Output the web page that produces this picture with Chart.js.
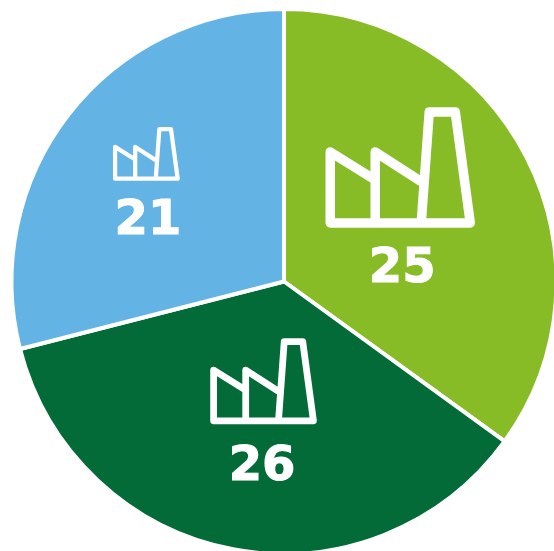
<!DOCTYPE html>
<html>
<head>
<meta charset="utf-8">
<title>Factories</title>
<script src="https://cdn.jsdelivr.net/npm/chart.js@4/dist/chart.umd.min.js"></script>
<style>
  html, body { margin: 0; padding: 0; background: #fff; overflow: hidden; }
  #wrap { position: absolute; left: 0; top: 0; width: 568px; height: 563px; }
</style>
</head>
<body>
<div id="wrap"><canvas id="MyChart1" width="568" height="563"></canvas></div>
<script>
var categories = ['Green', 'Dark green', 'Blue'];
var factoryCounts = [25, 26, 21];
// slice sizes, a bit off the printed counts
var sliceSizes = [25.18, 25.95, 20.87];
var sliceColors = ['#88bc26', '#036b37', '#63b3e5'];

// offsets from each slice's centre point, in px
var labelOffsets = [[-3.1, 49.9], [3.5, 52.4], [-28.5, 23.4]];
var iconOffsets = [[-5.1, -52.1], [5, -34.1], [-30, -44.1]];
var iconScales = [1, 0.713, 0.447];

// factory outline, centred on 0,0 at full size (150 wide)
function drawFactory(ctx, x, y, s) {
  ctx.save();
  ctx.translate(x, y);
  ctx.scale(s, s);
  ctx.strokeStyle = '#fff';
  ctx.lineWidth = 9.5;
  ctx.lineJoin = 'round';
  ctx.lineCap = 'round';
  ctx.beginPath();
  ctx.moveTo(-70, 55.5);
  ctx.lineTo(70, 55.5);
  ctx.lineTo(55, -55.5);
  ctx.lineTo(29, -55.5);
  ctx.lineTo(21, 55.5);
  ctx.moveTo(-25, 55.5);
  ctx.lineTo(-25, -15.5);
  ctx.lineTo(20, 13.5);
  ctx.moveTo(-70, 55.5);
  ctx.lineTo(-70, -15.5);
  ctx.lineTo(-25, 12.5);
  ctx.stroke();
  ctx.restore();
}

var factoryLabels = {
  id: 'factoryLabels',
  afterDatasetsDraw: function (chart) {
    var ctx = chart.ctx;
    chart.getDatasetMeta(0).data.forEach(function (arc, i) {
      var c = arc.tooltipPosition();
      drawFactory(ctx, c.x + iconOffsets[i][0], c.y + iconOffsets[i][1], iconScales[i]);
      ctx.save();
      ctx.fillStyle = '#fff';
      ctx.strokeStyle = '#fff';
      ctx.lineWidth = 1;
      ctx.font = 'bold 48px "DejaVu Sans"';
      ctx.textAlign = 'center';
      ctx.textBaseline = 'middle';
      ctx.fillText(String(factoryCounts[i]), c.x + labelOffsets[i][0], c.y + labelOffsets[i][1]);
      ctx.strokeText(String(factoryCounts[i]), c.x + labelOffsets[i][0], c.y + labelOffsets[i][1]);
      ctx.restore();
    });
  }
};

var chart = document.getElementById('MyChart1').getContext('2d');

var chartInstance = new Chart(chart, {
  type: 'pie',
  data: {
    labels: categories,
    datasets: [{
      data: sliceSizes,
      backgroundColor: sliceColors,
      borderColor: '#fff',
      borderWidth: 4
    }]
  },
  options: {
    responsive: false,
    animation: false,
    radius: 272.5,
    plugins: {
      legend: { display: false },
      tooltip: { enabled: false }
    }
  },
  plugins: [factoryLabels]
});
</script>
</body>
</html>
